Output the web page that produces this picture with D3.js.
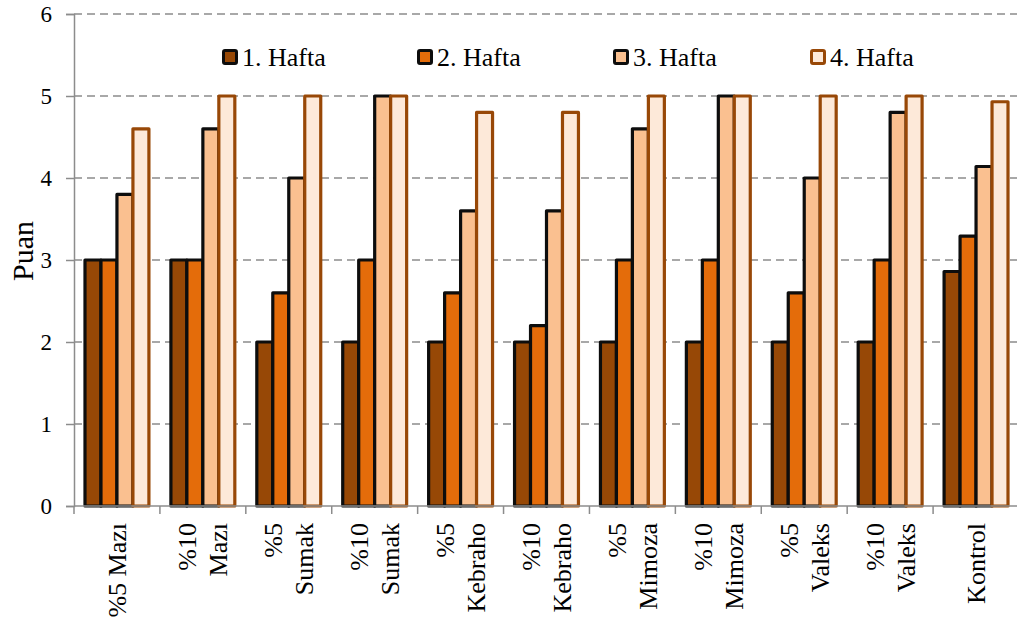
<!DOCTYPE html>
<html>
<head>
<meta charset="utf-8">
<script src="https://cdn.jsdelivr.net/npm/d3@7"></script>
<style>
  html, body { margin: 0; padding: 0; background: #fff; }
  svg { display: block; font-family: "Liberation Serif", "Times New Roman", serif; }
</style>
</head>
<body>
<svg id="chart" width="1017" height="626"></svg>
<script>
// Treatment groups (x axis), each label split into lines
const categories = [
  ["%5 Mazı"], ["%10", "Mazı"], ["%5", "Sumak"], ["%10", "Sumak"],
  ["%5", "Kebraho"], ["%10", "Kebraho"], ["%5", "Mimoza"], ["%10", "Mimoza"],
  ["%5", "Valeks"], ["%10", "Valeks"], ["Kontrol"]
];
const seriesNames = ["1. Hafta", "2. Hafta", "3. Hafta", "4. Hafta"];

// Scores per week, one value per treatment group
const week1 = [3, 3, 2, 2, 2, 2, 2, 2, 2, 2, 2.86];
const week2 = [3, 3, 2.6, 3, 2.6, 2.2, 3, 3, 2.6, 3, 3.29];
const week3 = [3.8, 4.6, 4, 5, 3.6, 3.6, 4.6, 5, 4, 4.8, 4.14];
const week4 = [4.6, 5, 5, 5, 4.8, 4.8, 5, 5, 5, 5, 4.93];
const yTicks = [0, 1, 2, 3, 4, 5, 6];

const seriesValues = [week1, week2, week3, week4];
const fills = ["#974806", "#E46C0A", "#FAC090", "#FDE9D9"];
const strokes = ["#0d0d0d", "#0d0d0d", "#0d0d0d", "#984807"];

const svg = d3.select("#chart");
const plotLeft = 74, plotRight = 1019, plotTop = 14, plotBottom = 506;
const serif = "Liberation Serif, Times New Roman, serif";

const x = d3.scaleBand()
  .domain(d3.range(categories.length))
  .range([plotLeft, plotRight])
  .paddingInner(0.256)
  .paddingOuter(0.128);
const xs = d3.scaleBand()
  .domain(d3.range(seriesNames.length))
  .range([0, x.bandwidth()])
  .padding(0);
const y = d3.scaleLinear().domain([0, 6]).range([plotBottom, plotTop]);

const grid = "#8c8c8c";

// Horizontal dashed gridlines
svg.append("g").selectAll("line")
  .data(yTicks.filter(d => d > 0))
  .join("line")
  .attr("x1", plotLeft).attr("x2", plotRight)
  .attr("y1", d => y(d)).attr("y2", d => y(d))
  .attr("stroke", grid).attr("stroke-width", 1.5)
  .attr("stroke-dasharray", "8,5");

// Y axis
const yAxis = svg.append("g")
  .attr("transform", `translate(${plotLeft},0)`)
  .call(d3.axisLeft(y).tickValues(yTicks).tickSize(8).tickPadding(14).tickFormat(d3.format("d")));
yAxis.attr("font-family", serif);
yAxis.select(".domain").attr("stroke", grid).attr("stroke-width", 1.5);
yAxis.selectAll(".tick line").attr("stroke", grid).attr("stroke-width", 1.5);
yAxis.selectAll(".tick text")
  .attr("font-family", serif)
  .attr("font-size", 23).attr("fill", "#000");

// Bars
const groups = svg.append("g").selectAll("g")
  .data(seriesNames.map((name, i) => ({ name, i })))
  .join("g");
groups.each(function (s) {
  d3.select(this).selectAll("rect")
    .data(seriesValues[s.i])
    .join("rect")
    .attr("x", (d, j) => x(j) + xs(s.i))
    .attr("y", d => y(d))
    .attr("width", xs.bandwidth())
    .attr("height", d => y(0) - y(d))
    .attr("fill", fills[s.i])
    .attr("stroke", strokes[s.i])
    .attr("stroke-width", 3.2)
    .attr("stroke-linejoin", "round");
});

// X axis
const step = x.step();
const xAxis = svg.append("g");
xAxis.append("line")
  .attr("x1", plotLeft).attr("x2", plotRight)
  .attr("y1", plotBottom).attr("y2", plotBottom)
  .attr("stroke", grid).attr("stroke-width", 1.5);
xAxis.selectAll("line.tick")
  .data(d3.range(categories.length + 1))
  .join("line")
  .attr("class", "tick")
  .attr("x1", i => plotLeft + i * step).attr("x2", i => plotLeft + i * step)
  .attr("y1", plotBottom).attr("y2", plotBottom + 8)
  .attr("stroke", grid).attr("stroke-width", 1.5);

// Rotated category labels
const lineGap = 31;
categories.forEach((lines, j) => {
  const cx = x(j) + x.bandwidth() / 2;
  lines.forEach((t, k) => {
    const off = (k - (lines.length - 1) / 2) * lineGap;
    svg.append("text")
      .attr("transform", `translate(${cx + off + 9},523) rotate(-90)`)
      .attr("text-anchor", "end")
      .attr("font-family", serif)
      .attr("font-size", 26)
      .attr("fill", "#000")
      .text(t);
  });
});

// Y axis title
svg.append("text")
  .attr("transform", "translate(33,251) rotate(-90)")
  .attr("text-anchor", "middle")
  .attr("font-family", serif)
  .attr("font-size", 30)
  .attr("fill", "#000")
  .text("Puan");

// Legend
const legendX = [222, 417, 613, 810];
const legend = svg.append("g").selectAll("g")
  .data(seriesNames)
  .join("g")
  .attr("transform", (d, i) => `translate(${legendX[i]},57)`);
legend.append("rect")
  .attr("x", 1.5).attr("y", -6.5)
  .attr("width", 13).attr("height", 13)
  .attr("rx", 1.5)
  .attr("fill", (d, i) => fills[i])
  .attr("stroke", (d, i) => strokes[i])
  .attr("stroke-width", 3);
legend.append("text")
  .attr("x", 20).attr("y", 9)
  .attr("font-family", serif)
  .attr("font-size", 26)
  .attr("fill", "#000")
  .text(d => d);
</script>
</body>
</html>
